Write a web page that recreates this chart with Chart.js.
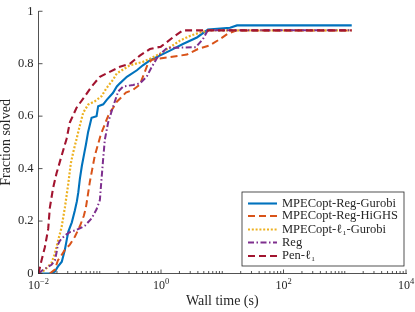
<!DOCTYPE html>
<html><head><meta charset="utf-8">
<script src="https://cdn.jsdelivr.net/npm/chart.js@4/dist/chart.umd.min.js"></script>
<style>html,body{margin:0;padding:0;background:#fff;}</style>
</head><body>
<canvas id="c" width="415" height="312"></canvas>
<script>
// ---- data (wall time in seconds, fraction solved) ----
const seriesNames = ['MPECopt-Reg-Gurobi','MPECopt-Reg-HiGHS','MPECopt-\u2113\u2081-Gurobi','Reg','Pen-\u2113\u2081'];

const regGurobiTime = [0.01,0.0153,0.0185,0.0207,0.024,0.0269,0.029,0.0307,0.035,0.0392,0.0423,0.0447,0.0473,0.051,0.056,0.0593,0.0646,0.0735,0.0887,0.0942,0.114,0.131,0.164,0.19,0.213,0.277,0.404,0.506,0.659,1.4,2.28,3.86,5.84,13.4,17.4,1300];
const regGurobiFrac = [0,0,0.007,0.026,0.045,0.09,0.13,0.16,0.195,0.24,0.275,0.31,0.36,0.41,0.46,0.49,0.54,0.594,0.60,0.638,0.645,0.663,0.688,0.713,0.725,0.75,0.775,0.794,0.813,0.85,0.875,0.90,0.93,0.937,0.946,0.946];

const regHighsTime = [0.0153,0.0185,0.0207,0.0231,0.0269,0.0325,0.0392,0.0473,0.055,0.0593,0.064,0.069,0.0757,0.0832,0.0931,0.104,0.117,0.131,0.146,0.164,0.19,0.221,0.267,0.347,0.452,0.546,0.611,0.71,0.96,1.4,2.65,4.01,6.3,9.18,12.4,17.4,1300];
const regHighsFrac = [0,0.015,0.05,0.065,0.09,0.11,0.14,0.18,0.22,0.25,0.30,0.35,0.40,0.45,0.49,0.53,0.56,0.59,0.615,0.63,0.655,0.67,0.69,0.70,0.72,0.77,0.80,0.815,0.82,0.825,0.835,0.856,0.87,0.894,0.915,0.927,0.927];

const l1GurobiTime = [0.0105,0.0127,0.0163,0.0185,0.0209,0.0238,0.0269,0.0305,0.0337,0.0367,0.0418,0.0473,0.0536,0.0646,0.0832,0.107,0.129,0.164,0.19,0.31,0.506,0.659,0.96,1.4,2.04,2.97,4.32,6.3,1300];
const l1GurobiFrac = [0,0.014,0.04,0.076,0.126,0.176,0.25,0.339,0.42,0.46,0.513,0.564,0.613,0.644,0.657,0.676,0.707,0.738,0.763,0.794,0.807,0.819,0.838,0.863,0.888,0.906,0.919,0.927,0.927];

const regTime = [0.01,0.0119,0.0163,0.0185,0.0197,0.0207,0.0223,0.0269,0.0325,0.0392,0.0473,0.0571,0.0735,0.0887,0.1005,0.106,0.114,0.121,0.137,0.166,0.2,0.241,0.352,0.452,0.582,0.701,0.847,0.96,1.25,3.72,4.84,5.84,1300];
const regFrac = [0,0.014,0.033,0.05,0.08,0.11,0.125,0.145,0.158,0.164,0.172,0.182,0.21,0.245,0.28,0.35,0.44,0.51,0.576,0.638,0.694,0.713,0.719,0.725,0.75,0.786,0.819,0.835,0.86,0.863,0.894,0.928,0.928];

const penL1Time = [0.01,0.0112,0.0127,0.0144,0.0153,0.0173,0.0197,0.0231,0.0287,0.0325,0.0418,0.0571,0.0735,0.1005,0.129,0.213,0.31,0.452,0.659,0.995,1.56,2.28,1300];
const penL1Frac = [0,0.05,0.10,0.17,0.25,0.326,0.382,0.438,0.513,0.576,0.632,0.676,0.713,0.75,0.763,0.788,0.80,0.831,0.856,0.865,0.90,0.927,0.927];

const yTickValues = [0,0.2,0.4,0.6,0.8,1];
const yTickLabels = ['0','0.2','0.4','0.6','0.8','1'];
const xMajorValues = [0.01,1,100,10000];
const xExpLabels = ['\u22122','0','2','4'];

// ---- styles ----
const axisColor = '#262626';
const fam = '"Liberation Serif","DejaVu Serif",serif';
const colors = ['#0072BD','#D95319','#EDB120','#7E2F8E','#A2142F'];
const dashes = [[],[7,4],[2,1.8],[6,2.5,1.5,2.5],[7,4]];
const widths = [2.1,2,2.2,2,2.1];
const times = [regGurobiTime,regHighsTime,l1GurobiTime,regTime,penL1Time];
const fracs = [regGurobiFrac,regHighsFrac,l1GurobiFrac,regFrac,penL1Frac];

const datasets = seriesNames.map((n,i)=>({
  label:n,
  data: times[i].map((t,k)=>({x:t,y:fracs[i][k]})),
  borderColor: colors[i],
  borderWidth: widths[i],
  borderDash: dashes[i],
  pointRadius: 0,
  tension: 0,
  fill: false,
  order: 5 - i
}));

const matlabPlugin = {
  id:'matlab',
  afterDraw(chart){
    const {ctx, chartArea:a} = chart;
    const xs = chart.scales.x, ys = chart.scales.y;
    ctx.save();
    ctx.strokeStyle = axisColor; ctx.lineWidth = 0.8; ctx.setLineDash([]);
    ctx.beginPath();
    yTickValues.forEach(v=>{const p=ys.getPixelForValue(v); ctx.moveTo(a.left,p); ctx.lineTo(a.left+4,p);});
    for(let e=-2;e<=4;e++){
      const d = Math.pow(10,e);
      const major = (e%2===0);
      const p = xs.getPixelForValue(d);
      ctx.moveTo(p,a.bottom); ctx.lineTo(p,a.bottom-(major?4:2.5));
      if(e<4){
        for(let m=2;m<=9;m++){
          const q = xs.getPixelForValue(m*d);
          ctx.moveTo(q,a.bottom); ctx.lineTo(q,a.bottom-2.5);
        }
      }
    }
    ctx.stroke();
    // x tick labels 10^k
    ctx.fillStyle = axisColor; ctx.textBaseline='alphabetic'; ctx.textAlign='left';
    xMajorValues.forEach((v,i)=>{
      const p = xs.getPixelForValue(v);
      ctx.font = '12px '+fam; const w1 = ctx.measureText('10').width;
      ctx.font = '8.5px '+fam; const w2 = ctx.measureText(xExpLabels[i]).width;
      const x0 = p-(w1+w2)/2;
      ctx.font = '12px '+fam; ctx.fillText('10',x0,a.bottom+15.5);
      ctx.font = '8.5px '+fam; ctx.fillText(xExpLabels[i],x0+w1,a.bottom+10.5);
    });
    // legend
    const lx = a.right-164, ly = a.bottom-81.5, lw = 162, lh = 74;
    ctx.fillStyle = '#ffffff'; ctx.fillRect(lx,ly,lw,lh);
    ctx.strokeStyle = axisColor; ctx.lineWidth = 0.8; ctx.strokeRect(lx,ly,lw,lh);
    const rowY = [11.5,24,37.5,50.5,64];
    chart.data.datasets.forEach((ds,i)=>{
      const y = ly+rowY[i];
      ctx.strokeStyle = ds.borderColor; ctx.lineWidth = ds.borderWidth;
      ctx.setLineDash(ds.borderDash);
      ctx.beginPath(); ctx.moveTo(lx+6,y); ctx.lineTo(lx+35,y); ctx.stroke();
      ctx.setLineDash([]);
      ctx.fillStyle = axisColor; ctx.font = '12.5px '+fam; ctx.textBaseline='middle';
      ctx.fillText(ds.label, lx+40, y);
    });
    ctx.restore();
  }
};

new Chart(document.getElementById('c'), {
  type:'line',
  data:{datasets},
  plugins:[matlabPlugin],
  options:{
    responsive:false, animation:false,
    layout:{padding:{left:0,top:6.5,right:9,bottom:0}},
    plugins:{legend:{display:false}, tooltip:{enabled:false}},
    scales:{
      x:{type:'logarithmic', min:0.01, max:10000,
        border:{display:true,color:axisColor,width:0.8},
        grid:{display:false,drawTicks:false},
        ticks:{display:false},
        title:{display:true,text:'Wall time (s)',color:axisColor,font:{family:fam,size:14},padding:{top:0,bottom:2}},
        afterFit(s){s.height=38.5;}
      },
      y:{type:'linear', min:0, max:1,
        border:{display:true,color:axisColor,width:0.8},
        grid:{display:false,drawTicks:false},
        afterBuildTicks(s){s.ticks = yTickValues.map(v=>({value:v}));},
        ticks:{padding:5,color:axisColor,font:{family:fam,size:12.5,lineHeight:1},callback:(v,i)=>yTickLabels[i]},
        title:{display:true,text:'Fraction solved',color:axisColor,font:{family:fam,size:14,lineHeight:0.95},padding:{top:0,bottom:0}},
        afterFit(s){s.width=38.5;}
      }
    }
  }
});
</script>
</body></html>
